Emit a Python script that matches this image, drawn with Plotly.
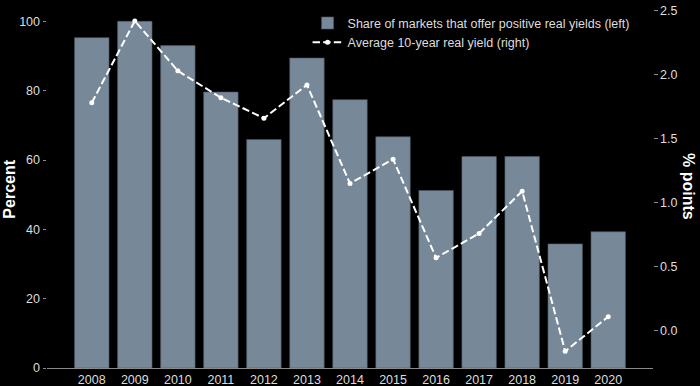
import plotly.graph_objects as go

years = ["2008", "2009", "2010", "2011", "2012", "2013", "2014",
         "2015", "2016", "2017", "2018", "2019", "2020"]
share_positive = [95.3, 100.0, 93.0, 79.6, 65.9, 89.4, 77.4,
                  66.7, 51.2, 61.0, 61.0, 35.8, 39.3]
avg_real_yield = [1.78, 2.42, 2.03, 1.82, 1.66, 1.92, 1.15,
                  1.34, 0.57, 0.76, 1.09, -0.16, 0.11]

bar_name = "Share of markets that offer positive real yields (left)"
line_name = "Average 10-year real yield (right)"

TXT = "#dddddd"
AX = "#8a8a8a"
FONT = "Liberation Sans, Arial, sans-serif"

fig = go.Figure()
fig.add_trace(go.Bar(
    x=years, y=share_positive, name=bar_name, width=0.8,
    marker=dict(color="#778899", line=dict(color="#4f5b66", width=0.6)),
    yaxis="y"))
fig.add_trace(go.Scatter(
    x=years, y=avg_real_yield, name=line_name, mode="lines+markers",
    line=dict(color="white", width=2, dash="7.4px,3.2px"),
    marker=dict(color="white", size=5),
    yaxis="y2"))

fig.update_layout(
    width=700, height=386,
    margin=dict(l=47, r=47, t=4, b=18, autoexpand=False),
    paper_bgcolor="black", plot_bgcolor="black",
    font=dict(family=FONT, size=12, color=TXT),
    showlegend=True,
    legend=dict(x=0.430, y=0.988, xanchor="left", yanchor="top",
                bgcolor="rgba(0,0,0,0)", font=dict(size=12.5, color=TXT),
                tracegroupgap=0),
    xaxis=dict(type="category", range=[-1.04, 13.04], showgrid=False,
               automargin=False,
               zeroline=False, showline=True, linecolor=AX, linewidth=1,
               ticks="", tickfont=dict(size=12.5, color=TXT)),
    yaxis=dict(range=[0, 105], tickvals=[0, 20, 40, 60, 80, 100],
               automargin=False,
               showgrid=False, zeroline=False, showline=False,
               ticks="outside", ticklen=3.5, tickcolor=AX,
               tickfont=dict(size=12.5, color=TXT)),
    yaxis2=dict(range=[-0.291, 2.552], overlaying="y", side="right",
                automargin=False,
                tick0=0, dtick=0.5, tickformat=".1f",
                showgrid=False, zeroline=False, showline=False,
                ticks="outside", ticklen=3.5, tickcolor=AX,
                tickfont=dict(size=12.5, color=TXT)),
    annotations=[
        dict(text="<b>Percent</b>", xref="paper", yref="paper",
             x=(10 - 47) / 606, y=0.49, xanchor="center", yanchor="middle",
             textangle=-90, showarrow=False,
             font=dict(size=16, color="white", family=FONT)),
        dict(text="<b>% points</b>", xref="paper", yref="paper",
             x=(689 - 47) / 606, y=0.5, xanchor="center", yanchor="middle",
             textangle=90, showarrow=False,
             font=dict(size=16, color="white", family=FONT)),
    ],
)

fig.write_html(
    "out.html",
    config={"displayModeBar": False},
    post_script="document.body.style.margin='0';document.body.style.padding='0';"
                "document.body.style.background='black';")
